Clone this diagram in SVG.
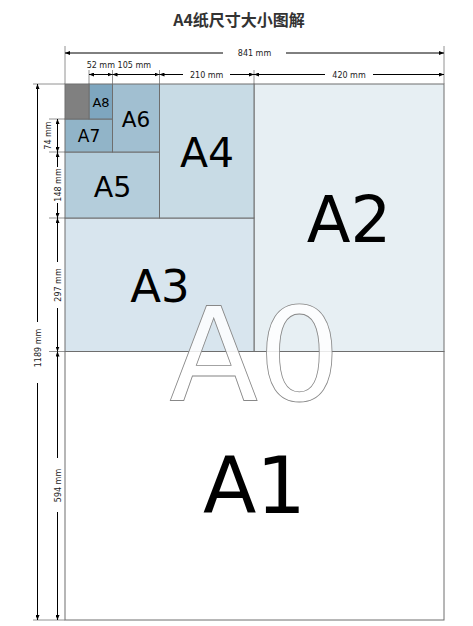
<svg xmlns="http://www.w3.org/2000/svg" width="473" height="626" viewBox="0 0 473 626">
<style>
.sheet{stroke:#6e6e6e;stroke-width:1}
.lbl{font-family:"DejaVu Sans","Liberation Sans",sans-serif;fill:#000;text-anchor:middle}
.dim{font-family:"DejaVu Sans","Liberation Sans",sans-serif;font-size:8px;fill:#222;text-anchor:middle}
.dl{stroke:#000;stroke-width:1;fill:none}
.ext{stroke:#777;stroke-width:0.8;fill:none}
.ms{marker-start:url(#ah)}
.me{marker-end:url(#ah)}
</style>
<defs>
<marker id="ah" viewBox="0 0 5 4" refX="5" refY="2" markerWidth="5" markerHeight="4" markerUnits="userSpaceOnUse" orient="auto-start-reverse">
<path d="M0,0 L5,2 L0,4 z" fill="#000"/>
</marker>
</defs>
<rect width="473" height="626" fill="#fff"/>
<text x="239" y="26" font-family="'Noto Sans CJK SC','Noto Sans',sans-serif" font-size="16" font-weight="bold" fill="#333" text-anchor="middle">A4纸尺寸大小图解</text>

<g id="A1"><rect class="sheet" x="65" y="351.5" width="379" height="268.5" fill="#fff"/><text class="lbl" x="254.5" y="513" font-size="78">A1</text></g>
<g id="A2"><rect class="sheet" x="254" y="84" width="190" height="267.5" fill="#e7eff3"/><text class="lbl" x="349" y="241.7" font-size="64">A2</text></g>
<g id="A3"><rect class="sheet" x="65" y="218" width="189" height="133.5" fill="#d8e5ee"/><text class="lbl" x="160" y="301.7" font-size="45">A3</text></g>
<g id="A4"><rect class="sheet" x="159.5" y="84" width="94.5" height="134" fill="#c8dbe5"/><text class="lbl" x="207" y="166.7" font-size="41">A4</text></g>
<g id="A5"><rect class="sheet" x="65" y="152" width="94.5" height="66" fill="#b4cddb"/><text class="lbl" x="112.5" y="196.7" font-size="28.5">A5</text></g>
<g id="A6"><rect class="sheet" x="112.5" y="84" width="47" height="68" fill="#a1bfd1"/><text class="lbl" x="136" y="127.3" font-size="21.5">A6</text></g>
<g id="A7"><rect class="sheet" x="65" y="119" width="47.5" height="33" fill="#91b4c8"/><text class="lbl" x="89" y="141.7" font-size="17">A7</text></g>
<g id="A8"><rect class="sheet" x="89" y="84" width="23.5" height="35" fill="#7ea6bf"/><text class="lbl" x="101" y="106.7" font-size="13">A8</text></g>
<g id="rest"><rect class="sheet" x="65" y="84" width="24" height="35" fill="#808080"/></g>

<g id="connectors">
<path class="ext" d="M65,46 V84 M444,46 V84 M89,70 V84 M112.5,70 V84 M159.5,70 V84 M254,70 V84"/>
<path class="ext" d="M33,84 H65 M33,620 H65 M49,119 H65 M49,152 H65 M49,218 H65 M49,351.5 H65"/>
<line class="dl ms" x1="65" y1="53" x2="223" y2="53"/>
<line class="dl me" x1="286" y1="53" x2="444" y2="53"/>
<text class="dim" x="254.5" y="56">841 mm</text>
<line class="dl ms me" x1="89" y1="74.5" x2="112.5" y2="74.5"/>
<line class="dl ms me" x1="112.5" y1="74.5" x2="159.5" y2="74.5"/>
<text class="dim" x="100.8" y="68" font-size="7.5">52 mm</text>
<text class="dim" x="134.3" y="68" font-size="8.5">105 mm</text>
<line class="dl ms" x1="159.5" y1="74.5" x2="183" y2="74.5"/>
<line class="dl me" x1="230" y1="74.5" x2="254" y2="74.5"/>
<text class="dim" x="206.7" y="77.5">210 mm</text>
<line class="dl ms" x1="254" y1="74.5" x2="325" y2="74.5"/>
<line class="dl me" x1="373" y1="74.5" x2="444" y2="74.5"/>
<text class="dim" x="349" y="77.5">420 mm</text>
<line class="dl ms" x1="37.5" y1="84" x2="37.5" y2="322"/>
<line class="dl me" x1="37.5" y1="383" x2="37.5" y2="620"/>
<text class="dim" transform="translate(40.5,348) rotate(-90)" font-size="7">1189 mm</text>
<line class="dl ms me" x1="57.5" y1="119" x2="57.5" y2="152"/>
<text class="dim" transform="translate(50.8,135.5) rotate(-90)" font-size="7">74 mm</text>
<line class="dl ms" x1="57.5" y1="152" x2="57.5" y2="167"/>
<line class="dl me" x1="57.5" y1="203" x2="57.5" y2="218"/>
<text class="dim" transform="translate(60.5,185) rotate(-90)">148 mm</text>
<line class="dl ms" x1="57.5" y1="218" x2="57.5" y2="262"/>
<line class="dl me" x1="57.5" y1="308" x2="57.5" y2="351.5"/>
<text class="dim" transform="translate(60.5,285) rotate(-90)">297 mm</text>
<line class="dl ms" x1="57.5" y1="351.5" x2="57.5" y2="458"/>
<line class="dl me" x1="57.5" y1="512" x2="57.5" y2="620"/>
<text class="dim" transform="translate(60.5,485.5) rotate(-90)">594 mm</text>
</g>

<g id="A0"><text x="255" y="400" font-family="DejaVu Sans,sans-serif" font-size="130" text-anchor="middle" fill="#fff" fill-opacity="0.85" stroke="#888" stroke-width="0.8">A0</text></g>
</svg>
